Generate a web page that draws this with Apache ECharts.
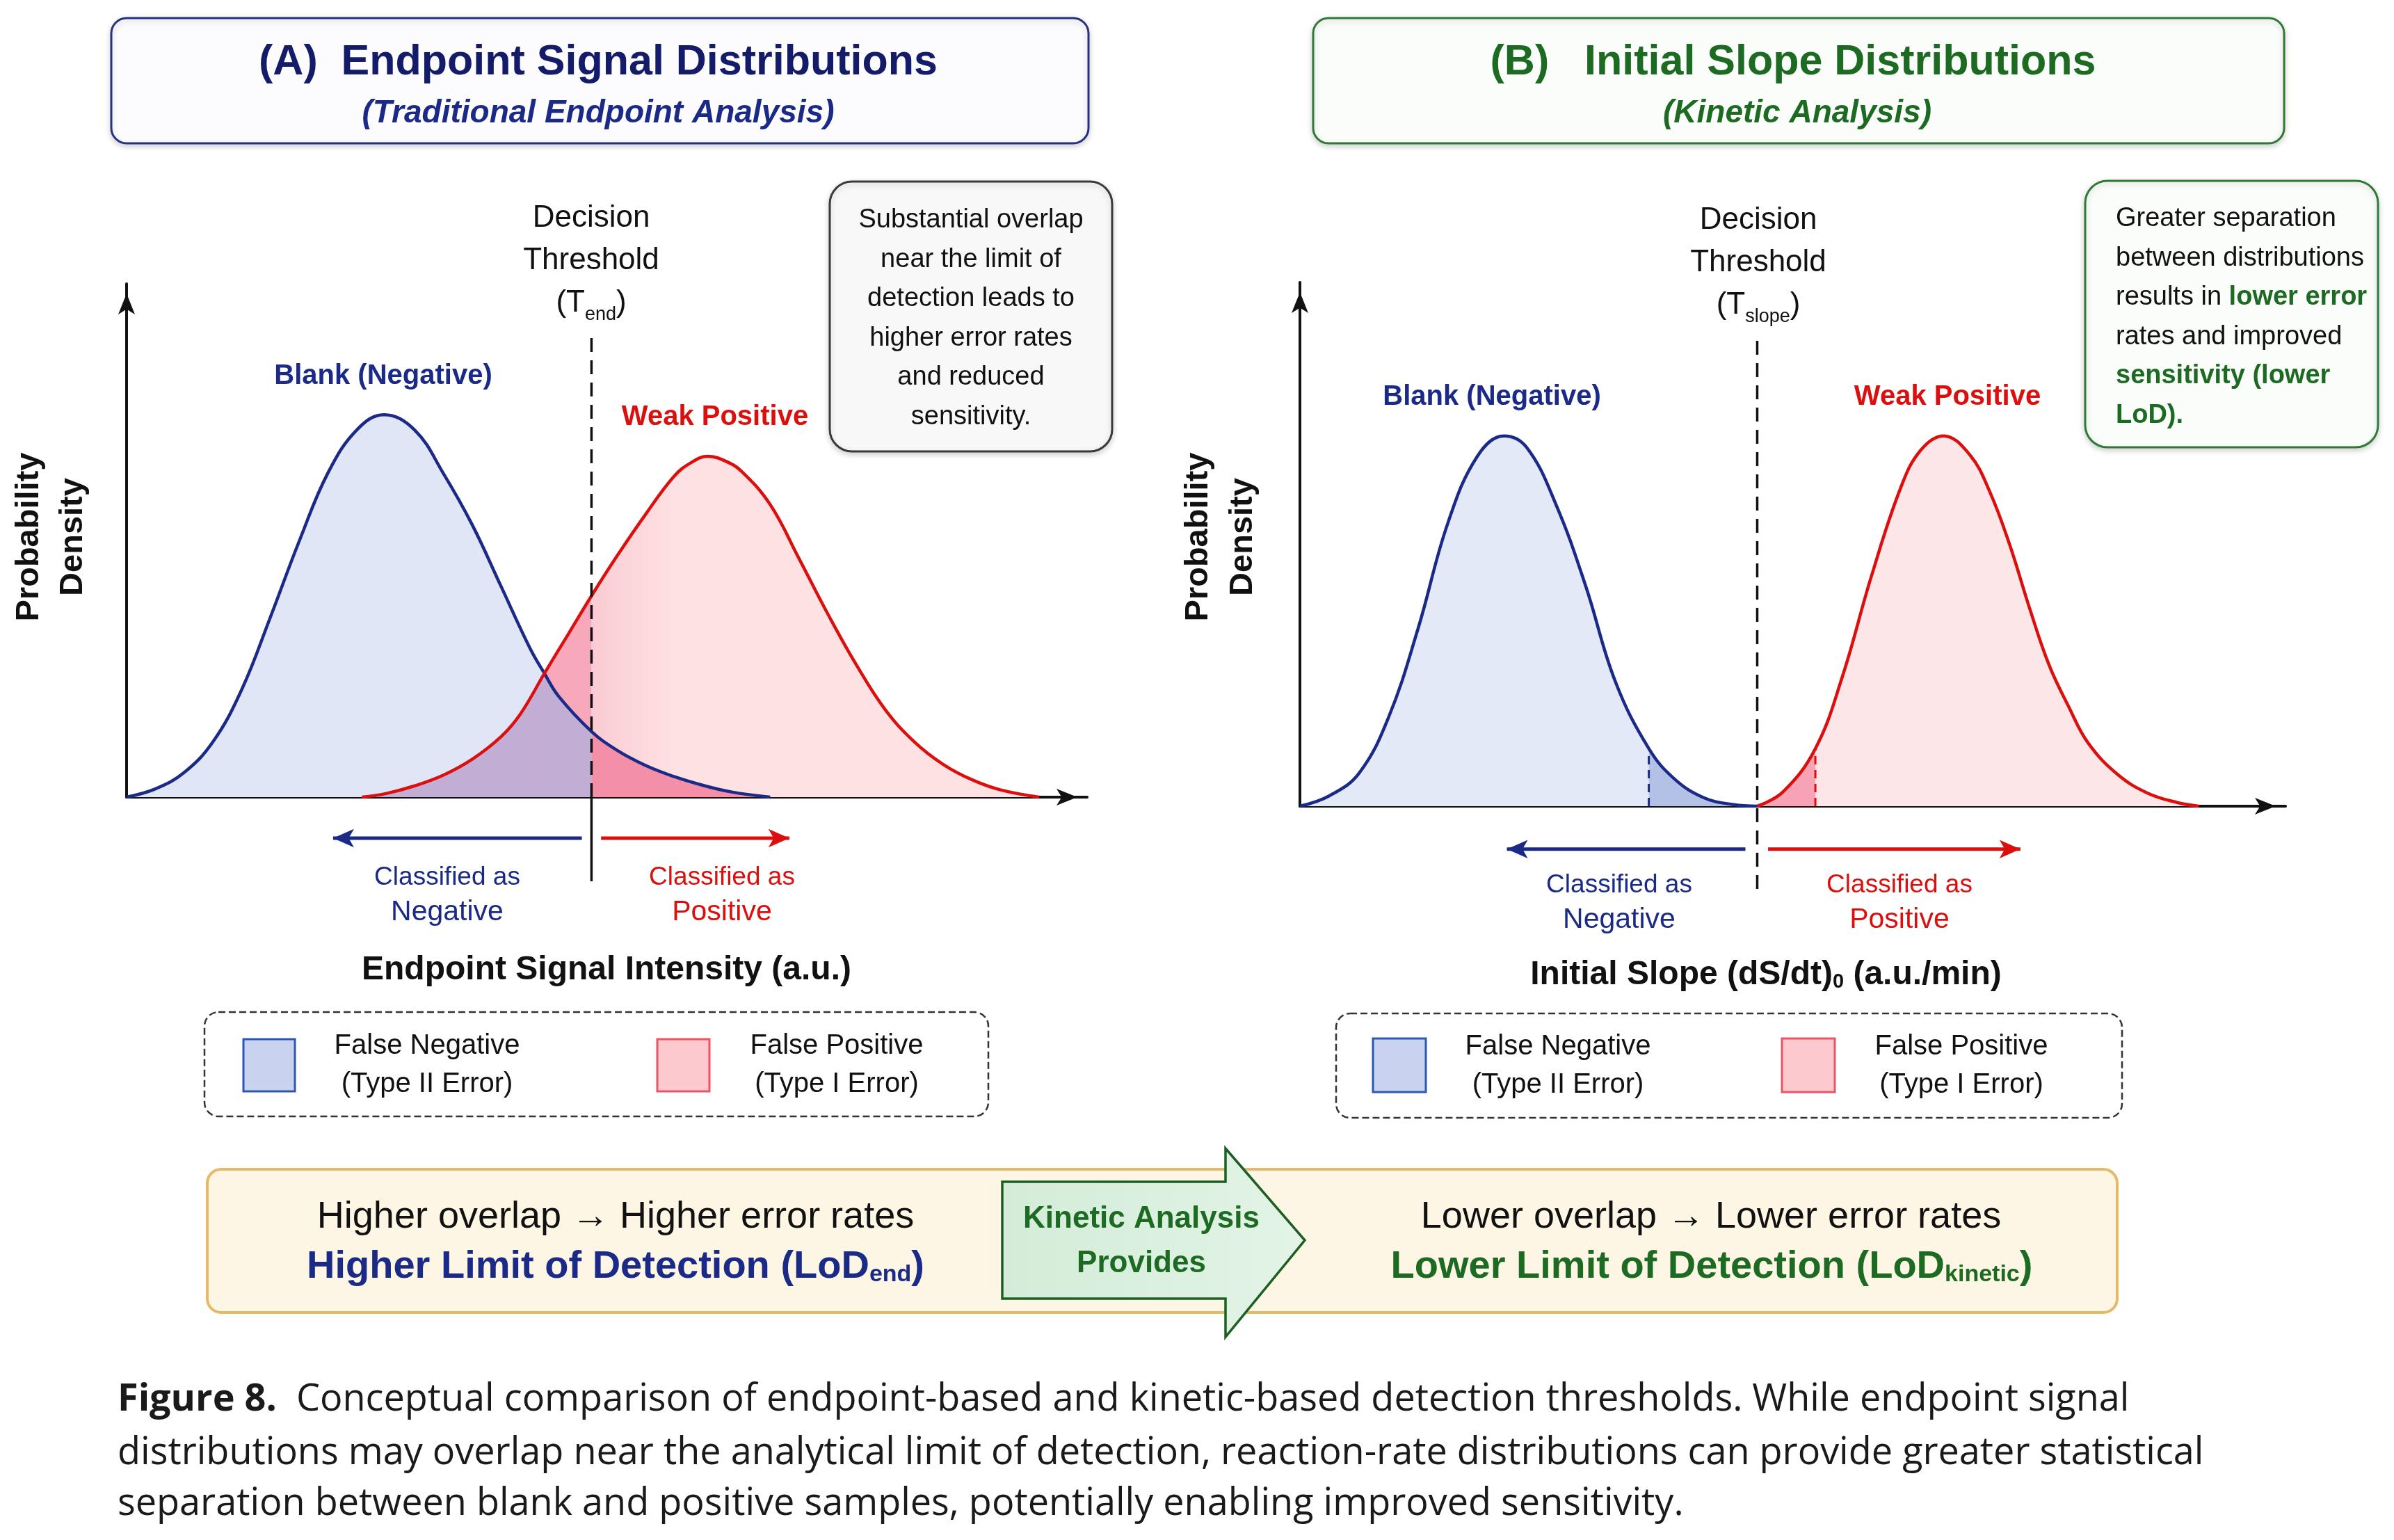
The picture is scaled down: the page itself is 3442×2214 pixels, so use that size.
<!DOCTYPE html>
<html>
<head>
<meta charset="utf-8">
<script src="https://cdn.jsdelivr.net/npm/echarts@6/dist/echarts.min.js"></script>
<style>
  html, body { margin: 0; padding: 0; background: #fff; }
  #chart { width: 3442px; height: 2214px; }
</style>
</head>
<body>
<div id="chart"></div>
<script>
// x = position along the axis (0-100), y = density as a share of the axis height
const blankA = [[0,0],[3,0.016],[6,0.048],[9,0.108],[12,0.21],[15,0.352],[18,0.50],[21,0.633],[24,0.716],[26.8,0.745],[30,0.715],[33,0.63],[36,0.53],[39,0.41],[42,0.29],[43.5,0.241],[45,0.196],[48.4,0.128],[51,0.092],[54,0.062],[57,0.04],[60,0.023],[63,0.01],[67,0]];
const positiveA = [[24.5,0],[27,0.007],[30,0.022],[33,0.043],[36,0.074],[39,0.118],[41,0.162],[43.5,0.241],[46,0.318],[48.4,0.392],[51,0.468],[54,0.55],[57,0.625],[58.8,0.652],[60.5,0.664],[62.3,0.655],[64,0.635],[67,0.57],[70,0.465],[73,0.357],[76,0.257],[79,0.17],[82,0.108],[85,0.064],[88,0.034],[91,0.014],[95,0]];
const blankB = [[0,0],[3,0.02],[6,0.063],[9,0.17],[12,0.34],[15,0.54],[18,0.668],[20.7,0.707],[23,0.685],[26,0.575],[29,0.42],[32,0.238],[35.4,0.11],[38,0.052],[41,0.016],[44,0.003],[46.4,0]];
const positiveB = [[46.4,0],[49,0.027],[52.3,0.11],[55,0.245],[58,0.44],[61,0.61],[63,0.68],[65.3,0.707],[68,0.67],[70,0.60],[72,0.50],[74,0.38],[76,0.27],[78,0.19],[80,0.12],[83,0.06],[86,0.025],[89,0.007],[91.2,0]];

const thresholdA = 48.4;   // T_end
const crossA = 43.5;       // where the two endpoint curves meet
const thresholdB = 46.4;   // T_slope
const fnCutB = 35.4;       // dashed edge of shaded blank tail
const fpCutB = 52.3;       // dashed edge of shaded positive tail

const SANS = '"Liberation Sans", Arial, Helvetica, sans-serif';
const CAP = '"Open Sans", Lato, sans-serif';
const navy = '#1a2a86', red = '#dc0f0f', green = '#1d6a22', ink = '#111';

var myChart = echarts.init(document.getElementById('chart'));

const upTo = (d, x) => d.filter(p => p[0] <= x);
const from = (d, x) => d.filter(p => p[0] >= x);
const between = (d, a, b) => d.filter(p => p[0] >= a && p[0] <= b);
const at = (d, x) => d.find(p => p[0] === x)[1];

function fill(ax, data, color) {
    return { type: 'line', xAxisIndex: ax, yAxisIndex: ax, data: data, smooth: 0.4, symbol: 'none',
        lineStyle: { width: 0 }, areaStyle: { color: color, opacity: 1 }, silent: true, z: 2 };
}
function curve(ax, data, color) {
    return { type: 'line', xAxisIndex: ax, yAxisIndex: ax, data: data, smooth: 0.4, symbol: 'none',
        lineStyle: { color: color, width: 4.5 }, silent: true, z: 5 };
}
function guide(ax, data, color, width, dash) {
    return { type: 'line', xAxisIndex: ax, yAxisIndex: ax, data: data, symbol: 'none', clip: false,
        lineStyle: { color: color, width: width, type: dash || 'solid' }, silent: true, z: 6 };
}
function pointer(ax, x0, x1, y, color) {
    return { type: 'line', xAxisIndex: ax, yAxisIndex: ax, symbol: 'arrow', symbolSize: [20, 30],
        showSymbol: true, clip: false, silent: true, z: 6,
        data: [{ value: [x0, y], symbol: 'none' }, { value: [x1, y], symbolRotate: x1 < x0 ? 90 : -90 }],
        lineStyle: { color: color, width: 5 }, itemStyle: { color: color } };
}
function axis(grid, max) {
    return { gridIndex: grid, type: 'value', min: 0, max: max,
        axisLine: { show: true, onZero: true, symbol: ['none', 'arrow'], symbolSize: [18, 30], symbolOffset: [0, -14],
            lineStyle: { color: ink, width: 4 } },
        axisTick: { show: false }, axisLabel: { show: false }, splitLine: { show: false } };
}
function txt(x, y, text, font, color, align, more) {
    const style = Object.assign({ text: text, font: font, fill: color, textAlign: align || 'center', align: align || 'center',
        textVerticalAlign: 'middle', verticalAlign: 'middle' }, more || {});
    return { type: 'text', x: x, y: y, z: 100, style: style };
}
function box(x, y, w, h, r, fillColor, stroke, lw, extra) {
    return { type: 'rect', z: 90, shape: { x: x, y: y, width: w, height: h, r: r },
        style: Object.assign({ fill: fillColor, stroke: stroke, lineWidth: lw }, extra || {}) };
}
const shadow = { shadowBlur: 8, shadowColor: 'rgba(0,0,0,0.18)', shadowOffsetY: 3 };
const sub = (size, color, bold) => ({ fontSize: size, fontFamily: SANS, fontWeight: bold ? 'bold' : 'normal', fill: color, verticalAlign: 'bottom', lineHeight: size + 4 });
const twoLine = (color) => ({ rich: {
    c: { fontSize: 37, fontFamily: SANS, fill: color, lineHeight: 50 },
    n: { fontSize: 41, fontFamily: SANS, fill: color, lineHeight: 50 } } });

var series = [
    // panel A
    fill(0, positiveA, '#fde1e3'),
    fill(0, blankA, '#e0e6f5'),
    fill(0, upTo(positiveA, thresholdA), '#f7a8ba'),
    fill(0, between(positiveA, thresholdA, 57), new echarts.graphic.LinearGradient(0, 0, 1, 0, [{ offset: 0, color: '#fbcbd2' }, { offset: 1, color: '#fde1e3' }])),
    fill(0, upTo(positiveA, crossA), '#c2aed4'),
    fill(0, between(blankA, crossA, thresholdA), '#c2aed4'),
    fill(0, from(blankA, thresholdA), '#f48fa8'),
    curve(0, blankA, navy),
    curve(0, positiveA, red),
    guide(0, [[thresholdA, 0], [thresholdA, 0.898]], ink, 3.5, [20, 12]),
    guide(0, [[thresholdA, -0.164], [thresholdA, 0]], ink, 3.5),
    pointer(0, 47.4, 21.5, -0.08, navy),
    pointer(0, 49.4, 69.0, -0.08, red),
    // panel B
    fill(1, blankB, '#e4e9f7'),
    fill(1, positiveB, '#fde6e8'),
    fill(1, from(blankB, fnCutB), '#b4c1e6'),
    fill(1, upTo(positiveB, fpCutB), '#f7a3b6'),
    curve(1, blankB, navy),
    curve(1, positiveB, red),
    guide(1, [[fnCutB, 0], [fnCutB, at(blankB, fnCutB)]], navy, 3, [12, 8]),
    guide(1, [[fpCutB, 0], [fpCutB, at(positiveB, fpCutB)]], red, 3, [12, 8]),
    guide(1, [[thresholdB, -0.158], [thresholdB, 0.898]], ink, 3.5, [20, 12]),
    pointer(1, 45.2, 21.0, -0.082, navy),
    pointer(1, 47.5, 73.1, -0.082, red)
];

var graphics = [
    // headers
    box(160, 26, 1405, 180, 22, '#fcfcfe', '#26327e', 3, shadow),
    txt(860, 90, '(A)  Endpoint Signal Distributions', `bold 61px ${SANS}`, '#141c6a'),
    txt(860, 163, '(Traditional Endpoint Analysis)', `italic bold 46px ${SANS}`, '#1b2a86'),
    box(1888, 26, 1396, 180, 22, '#fbfdfb', '#2f7a34', 3, shadow),
    txt(2578, 90, '(B)   Initial Slope Distributions', `bold 61px ${SANS}`, green),
    txt(2584, 163, '(Kinetic Analysis)', `italic bold 46px ${SANS}`, green),

    // panel A annotations
    Object.assign(txt(42, 772, 'Probability', `bold 47px ${SANS}`, ink), { rotation: Math.PI / 2 }),
    Object.assign(txt(105, 772, 'Density', `bold 47px ${SANS}`, ink), { rotation: Math.PI / 2 }),
    txt(850, 375, 'Decision\nThreshold\n(T{s|end})', `44px ${SANS}`, ink, 'center', { lineHeight: 61, rich: { s: sub(27, ink) } }),
    box(1193, 261, 406, 388, 32, '#f8f8f8', '#3a3a3a', 3, shadow),
    txt(1396, 458, 'Substantial overlap\nnear the limit of\ndetection leads to\nhigher error rates\nand reduced\nsensitivity.', `38px ${SANS}`, ink, 'center', { lineHeight: 56.6 }),
    txt(551, 541, 'Blank (Negative)', `bold 40px ${SANS}`, navy),
    txt(1028, 600, 'Weak Positive', `bold 40px ${SANS}`, red),
    txt(643, 1287, '{c|Classified as}\n{n|Negative}', `38px ${SANS}`, navy, 'center', twoLine(navy)),
    txt(1038, 1287, '{c|Classified as}\n{n|Positive}', `38px ${SANS}`, red, 'center', twoLine(red)),
    txt(872, 1395, 'Endpoint Signal Intensity (a.u.)', `bold 48px ${SANS}`, ink),
    box(294, 1455, 1127, 150, 20, '#ffffff', '#333', 2.5, { lineDash: [10, 5] }),
    box(350, 1494, 74, 75, 0, '#c9d3ef', '#2d58b0', 3),
    txt(614, 1531, 'False Negative\n(Type II Error)', `40px ${SANS}`, ink, 'center', { lineHeight: 55 }),
    box(945, 1494, 75, 75, 0, '#fcc9ce', '#ea5565', 3),
    txt(1203, 1531, 'False Positive\n(Type I Error)', `40px ${SANS}`, ink, 'center', { lineHeight: 55 }),

    // panel B annotations
    Object.assign(txt(1723, 772, 'Probability', `bold 47px ${SANS}`, ink), { rotation: Math.PI / 2 }),
    Object.assign(txt(1787, 772, 'Density', `bold 47px ${SANS}`, ink), { rotation: Math.PI / 2 }),
    txt(2528, 378, 'Decision\nThreshold\n(T{s|slope})', `44px ${SANS}`, ink, 'center', { lineHeight: 61, rich: { s: sub(27, ink) } }),
    box(2998, 260, 421, 383, 32, '#fbfdfb', '#2f7a34', 3, shadow),
    txt(3042, 456, 'Greater separation\nbetween distributions\nresults in {g|lower error}\nrates and improved\n{g|sensitivity (lower}\n{g|LoD).}', `38px ${SANS}`, ink, 'left',
        { lineHeight: 56.6, rich: { g: { fontSize: 38, fontFamily: SANS, fontWeight: 'bold', fill: green, lineHeight: 56.6 } } }),
    txt(2145, 571, 'Blank (Negative)', `bold 40px ${SANS}`, navy),
    txt(2800, 571, 'Weak Positive', `bold 40px ${SANS}`, red),
    txt(2328, 1298, '{c|Classified as}\n{n|Negative}', `38px ${SANS}`, navy, 'center', twoLine(navy)),
    txt(2731, 1298, '{c|Classified as}\n{n|Positive}', `38px ${SANS}`, red, 'center', twoLine(red)),
    txt(2539, 1402, 'Initial Slope (dS/dt){s|0} (a.u./min)', `bold 48px ${SANS}`, ink, 'center', { rich: { s: sub(29, ink, true) } }),
    box(1921, 1457, 1130, 150, 20, '#ffffff', '#333', 2.5, { lineDash: [10, 5] }),
    box(1974, 1493, 76, 77, 0, '#c9d3ef', '#2d58b0', 3),
    txt(2240, 1532, 'False Negative\n(Type II Error)', `40px ${SANS}`, ink, 'center', { lineHeight: 55 }),
    box(2562, 1493, 76, 77, 0, '#fcc9ce', '#ea5565', 3),
    txt(2820, 1532, 'False Positive\n(Type I Error)', `40px ${SANS}`, ink, 'center', { lineHeight: 55 }),

    // summary banner
    box(298, 1681, 2746, 206, 20, '#fdf6e4', '#e6b967', 4),
    { type: 'polygon', z: 95, shape: { points: [[1441, 1699], [1762, 1699], [1762, 1651], [1876, 1783], [1762, 1922], [1762, 1867], [1441, 1867]] },
      style: { fill: new echarts.graphic.LinearGradient(0, 0, 1, 0, [{ offset: 0, color: '#d3ecd8' }, { offset: 1, color: '#e3f4e6' }]), stroke: '#1d5e22', lineWidth: 3.5 } },
    txt(1641, 1785, 'Kinetic Analysis\nProvides', `bold 44px ${SANS}`, green, 'center', { lineHeight: 64 }),
    txt(885, 1750, 'Higher overlap \u2192 Higher error rates', `54px ${SANS}`, ink),
    txt(885, 1822, 'Higher Limit of Detection (LoD{s|end})', `bold 56px ${SANS}`, navy, 'center', { rich: { s: sub(34, navy, true) } }),
    txt(2460, 1750, 'Lower overlap \u2192 Lower error rates', `54px ${SANS}`, ink),
    txt(2461, 1822, 'Lower Limit of Detection (LoD{s|kinetic})', `bold 56px ${SANS}`, green, 'center', { rich: { s: sub(34, green, true) } }),

    // caption
    txt(169, 2013, '{b|Figure 8.}  Conceptual comparison of endpoint-based and kinetic-based detection thresholds. While endpoint signal', `54px ${CAP}`, '#1a1a1a', 'left',
        { rich: { b: { fontSize: 54, fontFamily: CAP, fontWeight: 'bold', fill: '#1a1a1a' } } }),
    txt(169, 2090, 'distributions may overlap near the analytical limit of detection, reaction-rate distributions can provide greater statistical', `54px ${CAP}`, '#1a1a1a', 'left'),
    txt(169, 2163, 'separation between blank and positive samples, potentially enabling improved sensitivity.', `54px ${CAP}`, '#1a1a1a', 'left')
];

var option = {
    backgroundColor: '#ffffff',
    animation: false,
    grid: [
        { left: 182, top: 408, width: 1381, height: 738 },
        { left: 1869, top: 406, width: 1417, height: 753 }
    ],
    xAxis: [axis(0, 100), axis(1, 100)],
    yAxis: [axis(0, 1), axis(1, 1)],
    series: series,
    graphic: { elements: graphics }
};

option && myChart.setOption(option);
window.onresize = myChart.resize;
</script>
</body>
</html>
